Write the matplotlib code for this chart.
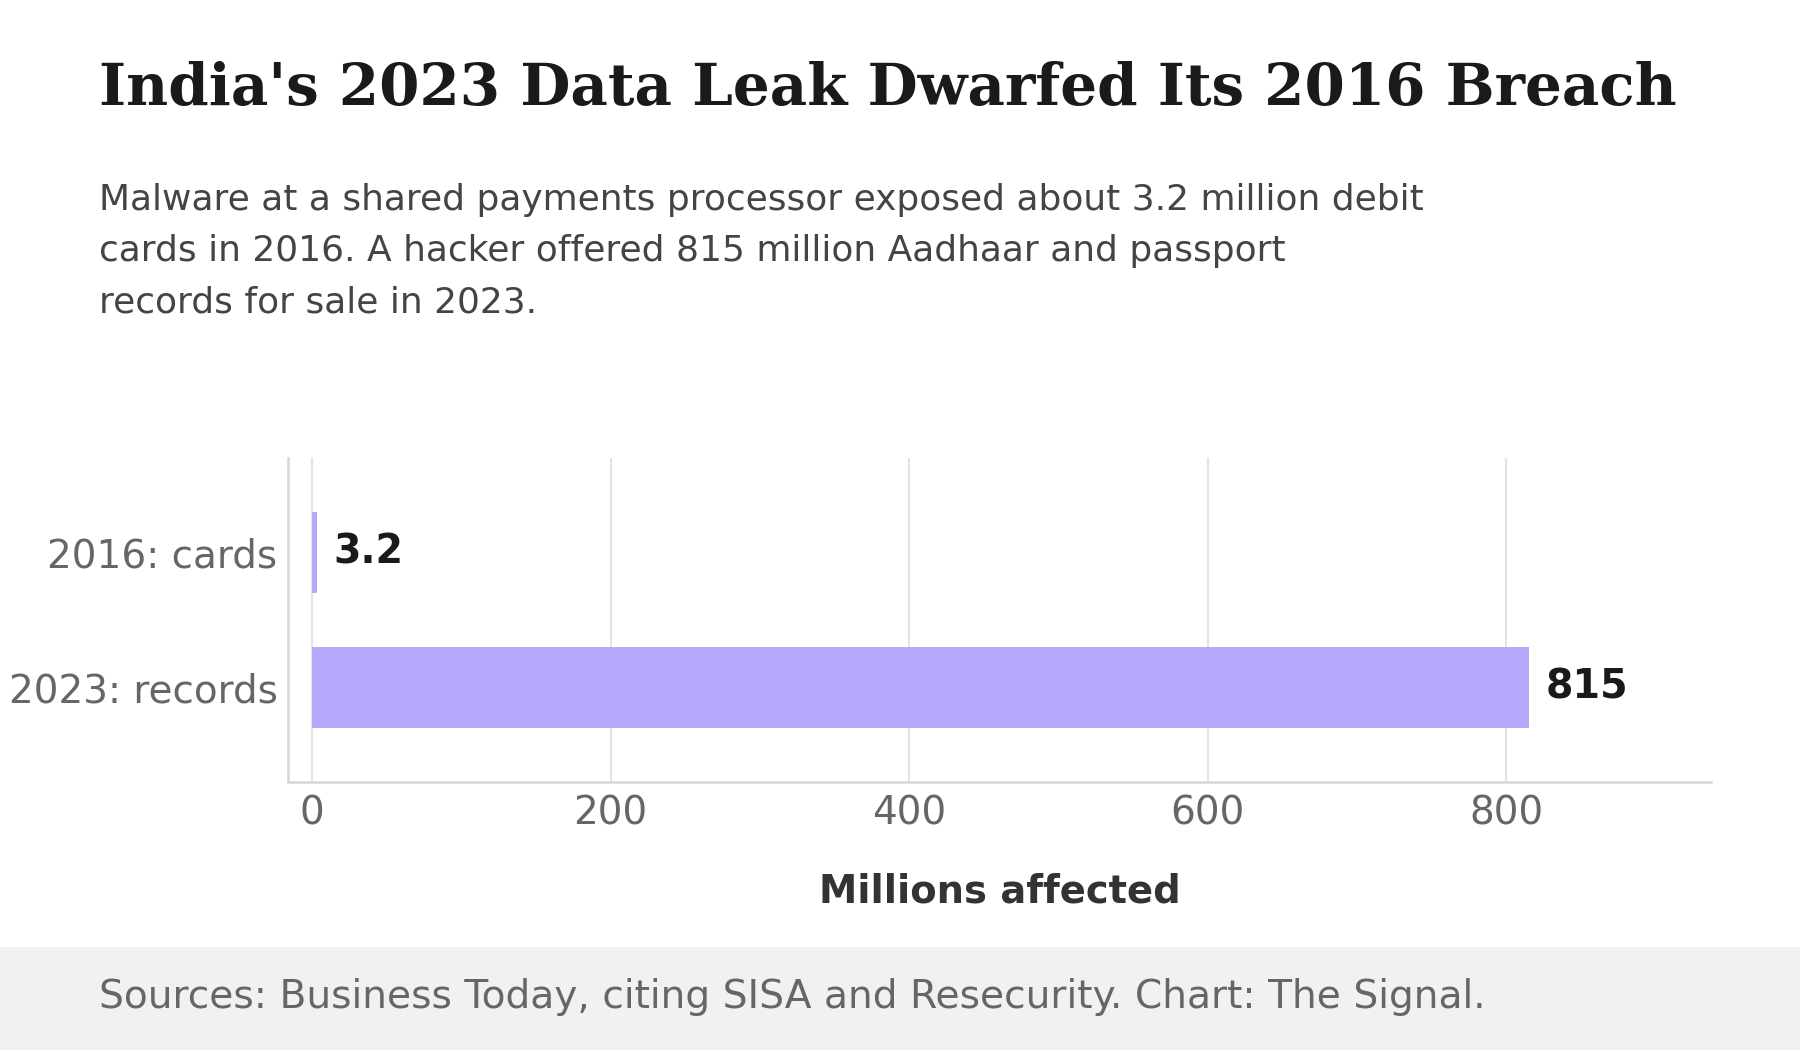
import matplotlib.pyplot as plt

# data
labels = ["2016: cards", "2023: records"]
values = [3.2, 815]
value_text = ["3.2", "815"]
xticks = [0, 200, 400, 600, 800]

title = "India's 2023 Data Leak Dwarfed Its 2016 Breach"
subtitle = ("Malware at a shared payments processor exposed about 3.2 million debit\n"
            "cards in 2016. A hacker offered 815 million Aadhaar and passport\n"
            "records for sale in 2023.")
source = "Sources: Business Today, citing SISA and Resecurity. Chart: The Signal."

bar_color = "#b7a8fd"

fig = plt.figure(figsize=(12, 7), dpi=150)
fig.patch.set_facecolor("white")

# footer band
fig.add_artist(plt.Rectangle((0, 0), 1, 103 / 1050, transform=fig.transFigure,
                             facecolor="#f2f1ef", edgecolor="none", zorder=0))

ax = fig.add_axes([288 / 1800, 1 - 782 / 1050, (1711 - 288) / 1800, (782 - 458) / 1050])
ypos = range(len(labels))
ax.barh(ypos, values, height=0.6, color=bar_color, zorder=3)
for y, v, t in zip(ypos, values, value_text):
    ax.annotate(t, (v, y), xytext=(8, 0), textcoords="offset points",
                va="center", ha="left", fontsize=19, fontweight="bold", color="#1a1a1a")

ax.set_yticks(list(ypos))
ax.set_yticklabels(labels)
ax.set_ylim(1.7, -0.7)
ax.set_xlim(-16, 937)
ax.set_xticks(xticks)
ax.tick_params(axis="both", length=0, labelsize=18.7, labelcolor="#666666")
ax.tick_params(axis="x", pad=6)
ax.tick_params(axis="y", pad=5)
ax.grid(axis="x", color="#e3e3e3", linewidth=1, zorder=0)
ax.set_axisbelow(True)
for s in ["top", "right"]:
    ax.spines[s].set_visible(False)
for s in ["left", "bottom"]:
    ax.spines[s].set_color("#d6d6d6")
    ax.spines[s].set_linewidth(1.2)
ax.set_xlabel("Millions affected", fontsize=18.5, fontweight="bold", color="#333333", labelpad=19)

fig.text(99 / 1800, 1 - 105 / 1050, title, fontsize=27.8, fontweight="bold",
         family="DejaVu Serif", color="#1a1a1a", va="baseline", ha="left")
fig.text(99 / 1800, 1 - 183 / 1050, subtitle, fontsize=17.3, color="#444444",
         va="top", ha="left", linespacing=1.64)
fig.text(99 / 1800, 1 - 997 / 1050, source, fontsize=18.75, color="#666666",
         va="center", ha="left")

fig.savefig("out.png", dpi=150)
